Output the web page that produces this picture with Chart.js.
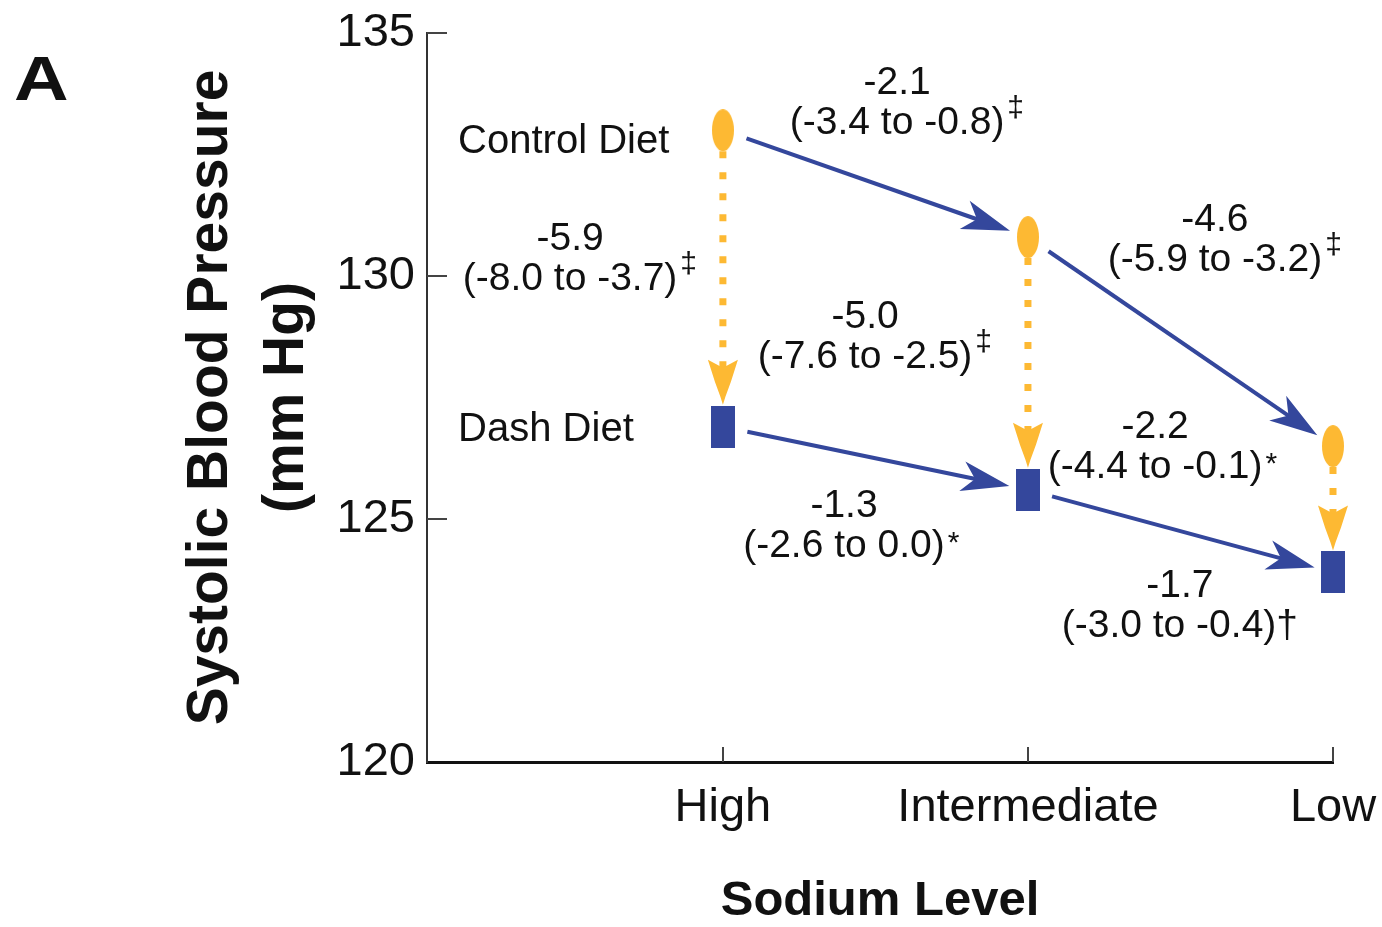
<!DOCTYPE html>
<html>
<head>
<meta charset="utf-8">
<title>Systolic Blood Pressure by Sodium Level</title>
<script src="https://cdn.jsdelivr.net/npm/chart.js@4.4.1/dist/chart.umd.min.js"></script>
<style>
  html, body { margin: 0; padding: 0; background: #fff; }
  #wrap { position: relative; width: 1382px; height: 927px; }
</style>
</head>
<body>
<div id="wrap"><canvas id="bp-chart" width="1382" height="927"></canvas></div>
<script>
const sodiumLevels = ['High', 'Intermediate', 'Low'];
const controlDiet = [133.0, 130.8, 126.5];
const dashDiet = [126.9, 125.6, 123.9];
const yTicks = [120, 125, 130, 135];

// change estimates printed beside the arrows: estimate, 95% CI, significance mark
const changeEstimates = ['-2.1', '-4.6', '-1.3', '-1.7', '-5.9', '-5.0', '-2.2'];
const changeRanges = ['(-3.4 to -0.8)', '(-5.9 to -3.2)', '(-2.6 to 0.0)', '(-3.0 to -0.4)',
                      '(-8.0 to -3.7)', '(-7.6 to -2.5)', '(-4.4 to -0.1)'];
const changeMarks = ['‡', '‡', '*', '†', '‡', '‡', '*'];

// where each change label sits, in axis units (x = level index, y = mm Hg, first-line baseline)
const changeAnchors = [[1.571, 133.74], [2.613, 130.93], [1.397, 125.04], [2.498, 123.40],
                       [0.499, 130.53], [1.466, 128.93], [2.417, 126.67]];
const seriesNameAnchors = [[0.132, 132.53], [0.132, 126.60]];
const seriesNames = ['Control Diet', 'Dash Diet'];

const BLUE = '#34479c';
const ORANGE = '#fdb933';
const INK = '#111';
const FONT = '"Liberation Sans", Arial, Helvetica, sans-serif';

function markerCanvas(w, h, draw) {
    const c = document.createElement('canvas');
    c.width = w;
    c.height = h;
    draw(c.getContext('2d'), w, h);
    return c;
}

const ellipseMark = markerCanvas(22, 42, (g, w, h) => {
    g.fillStyle = ORANGE;
    g.beginPath();
    g.ellipse(w / 2, h / 2, w / 2, h / 2, 0, 0, Math.PI * 2);
    g.fill();
});
const rectMark = markerCanvas(24, 42, (g, w, h) => {
    g.fillStyle = BLUE;
    g.fillRect(0, 0, w, h);
});

// polygon given in (along, across) coordinates relative to the tip
function arrowHead(ctx, tx, ty, ux, uy, pts, color) {
    const nx = -uy, ny = ux;
    ctx.fillStyle = color;
    ctx.beginPath();
    pts.forEach(([a, p], i) => {
        const x = tx + a * ux + p * nx, y = ty + a * uy + p * ny;
        if (i === 0) ctx.moveTo(x, y); else ctx.lineTo(x, y);
    });
    ctx.closePath();
    ctx.fill();
}

function blueArrow(ctx, a, b) {
    const dx = b[0] - a[0], dy = b[1] - a[1];
    const len = Math.hypot(dx, dy), ux = dx / len, uy = dy / len;
    const sx = a[0] + ux * 25, sy = a[1] + uy * 25;
    const tx = b[0] - ux * 19, ty = b[1] - uy * 19;
    ctx.strokeStyle = BLUE;
    ctx.lineWidth = 4;
    ctx.setLineDash([]);
    ctx.beginPath();
    ctx.moveTo(sx, sy);
    ctx.lineTo(tx - ux * 32, ty - uy * 32);
    ctx.stroke();
    arrowHead(ctx, tx, ty, ux, uy, [[0, 0], [-48, 15], [-35, 0], [-48, -15]], BLUE);
}

function orangeArrow(ctx, a, b) {
    const tx = b[0], ty = b[1] - 22;
    ctx.strokeStyle = ORANGE;
    ctx.lineWidth = 7;
    ctx.lineCap = 'butt';
    ctx.setLineDash([7, 14]);
    ctx.beginPath();
    ctx.moveTo(a[0], a[1]);
    ctx.lineTo(tx, ty - 36);
    ctx.stroke();
    ctx.setLineDash([]);
    arrowHead(ctx, tx, ty, 0, 1,
        [[0, 0], [-8, 2.5], [-23, 8], [-45, 15], [-37, 0], [-45, -15], [-23, -8], [-8, -2.5]], ORANGE);
}

const arrowPlugin = {
    id: 'arrows',
    beforeDatasetsDraw(chart) {
        const { ctx } = chart;
        const xs = chart.scales.x, ys = chart.scales.y;
        const px = (i, v) => [xs.getPixelForValue(i + 1), ys.getPixelForValue(v)];
        ctx.save();
        [controlDiet, dashDiet].forEach(series => {
            for (let i = 0; i < series.length - 1; i++) {
                blueArrow(ctx, px(i, series[i]), px(i + 1, series[i + 1]));
            }
        });
        sodiumLevels.forEach((_, i) => orangeArrow(ctx, px(i, controlDiet[i]), px(i, dashDiet[i])));
        ctx.restore();
    }
};

const markRaise = { '‡': 17, '*': 5 };

const labelPlugin = {
    id: 'labels',
    afterDraw(chart) {
        const { ctx } = chart;
        const xs = chart.scales.x, ys = chart.scales.y;
        const area = chart.chartArea;
        ctx.save();

        // inward tick marks
        ctx.strokeStyle = '#444';
        ctx.lineWidth = 2;
        ctx.beginPath();
        yTicks.slice(1).forEach(v => {
            const y = Math.round(ys.getPixelForValue(v));
            ctx.moveTo(area.left, y);
            ctx.lineTo(area.left + 20, y);
        });
        sodiumLevels.forEach((_, i) => {
            const x = Math.round(xs.getPixelForValue(i + 1));
            ctx.moveTo(x, area.bottom);
            ctx.lineTo(x, area.bottom - 15);
        });
        ctx.stroke();

        ctx.fillStyle = INK;
        ctx.textBaseline = 'alphabetic';

        // panel letter, drawn a little wide
        ctx.save();
        ctx.font = 'bold 63px ' + FONT;
        ctx.textAlign = 'left';
        ctx.translate(14, 100);
        ctx.scale(1.2, 1);
        ctx.fillText('A', 0, 0);
        ctx.restore();

        ctx.font = '40px ' + FONT;
        ctx.textAlign = 'left';
        seriesNames.forEach((name, i) => {
            ctx.fillText(name, xs.getPixelForValue(seriesNameAnchors[i][0]),
                ys.getPixelForValue(seriesNameAnchors[i][1]));
        });

        changeEstimates.forEach((est, i) => {
            const x = xs.getPixelForValue(changeAnchors[i][0]);
            const y = ys.getPixelForValue(changeAnchors[i][1]);
            const range = changeRanges[i], mark = changeMarks[i];
            ctx.font = '39px ' + FONT;
            ctx.textAlign = 'center';
            ctx.fillText(est, x, y);

            ctx.textAlign = 'left';
            const y2 = y + 40;
            if (mark in markRaise) {
                const rw = ctx.measureText(range).width;
                const left = x - rw / 2;
                ctx.fillText(range, left, y2);
                ctx.font = '30px ' + FONT;
                ctx.fillText(mark, left + rw + 3, y2 - markRaise[mark]);
            } else {
                const full = range + mark;
                const left = x - ctx.measureText(full).width / 2;
                ctx.fillText(full, left, y2);
            }
        });
        ctx.restore();
    }
};

new Chart(document.getElementById('bp-chart'), {
    type: 'scatter',
    data: {
        datasets: [
            {
                label: 'Control Diet',
                data: controlDiet.map((v, i) => ({ x: i + 1, y: v })),
                pointStyle: ellipseMark,
                pointRadius: 12,
                backgroundColor: ORANGE,
                borderColor: ORANGE,
                clip: false
            },
            {
                label: 'Dash Diet',
                data: dashDiet.map((v, i) => ({ x: i + 1, y: v })),
                pointStyle: rectMark,
                pointRadius: 12,
                backgroundColor: BLUE,
                borderColor: BLUE,
                clip: false
            }
        ]
    },
    options: {
        responsive: false,
        animation: false,
        devicePixelRatio: 1,
        layout: { padding: { top: 33, right: 49, left: 0, bottom: 0 } },
        plugins: {
            legend: { display: false },
            tooltip: { enabled: false }
        },
        scales: {
            x: {
                type: 'linear',
                min: 0.03,
                max: 3,
                afterBuildTicks: s => { s.ticks = sodiumLevels.map((_, i) => ({ value: i + 1 })); },
                afterFit: s => {
                    s.height = 165;
                    s.paddingLeft = 0;
                    s.paddingRight = 0;
                },
                grid: { display: false },
                border: { display: true, color: INK, width: 3 },
                ticks: {
                    callback: v => sodiumLevels[Math.round(v) - 1],
                    font: { family: FONT, size: 47 },
                    color: INK,
                    padding: 10,
                    maxRotation: 0,
                    autoSkip: false
                },
                title: {
                    display: true,
                    text: 'Sodium Level',
                    font: { family: FONT, size: 49, weight: 'bold', lineHeight: 1 },
                    color: INK,
                    padding: { top: 0, bottom: 1 }
                }
            },
            y: {
                min: 120,
                max: 135,
                afterBuildTicks: s => { s.ticks = yTicks.map(v => ({ value: v })); },
                afterFit: s => {
                    s.width = 427;
                    s.paddingTop = 0;
                    s.paddingBottom = 0;
                },
                grid: { display: false },
                border: { display: true, color: '#333', width: 2 },
                ticks: {
                    font: { family: FONT, size: 47 },
                    color: INK,
                    padding: 4
                },
                title: {
                    display: true,
                    text: ['Systolic Blood Pressure', '(mm Hg)'],
                    font: { family: FONT, size: 57, weight: 'bold', lineHeight: 1.32 },
                    color: INK,
                    padding: { top: 174, bottom: 0 }
                }
            }
        }
    },
    plugins: [arrowPlugin, labelPlugin]
});
</script>
</body>
</html>
